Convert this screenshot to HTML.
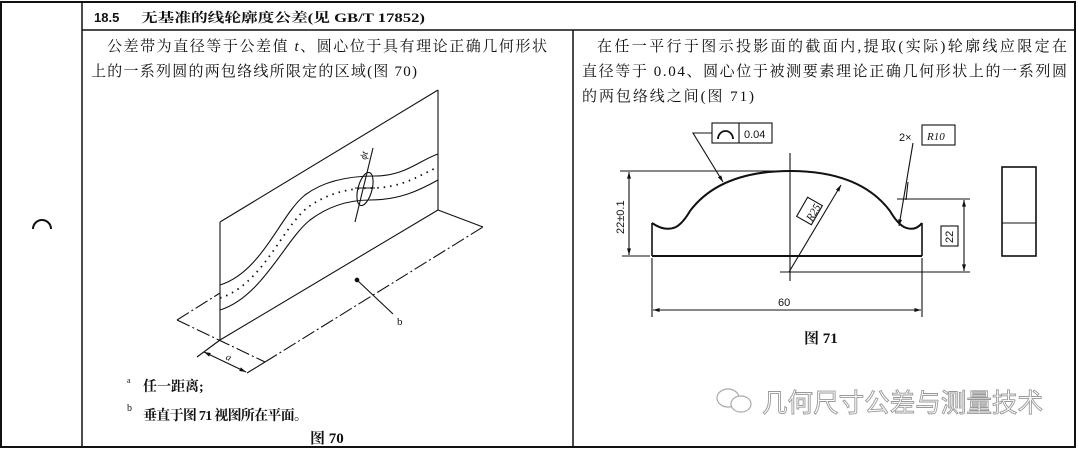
<!DOCTYPE html>
<html><head><meta charset="utf-8"><style>
html,body{margin:0;padding:0;background:#fff;}
svg{display:block;}
text{font-family:"Liberation Serif","Noto Serif CJK SC",serif;fill:#111;}
.h{font-family:"Liberation Sans","Noto Sans CJK SC",sans-serif;}
</style></head><body>
<svg width="1078" height="450" viewBox="0 0 1078 450" xmlns="http://www.w3.org/2000/svg">
<defs>
<marker id="ar" viewBox="0 0 10 10" refX="10" refY="5" markerWidth="8" markerHeight="6" orient="auto-start-reverse"><path d="M0,2 L10,5 L0,8z" fill="#111"/></marker>
</defs>
<g stroke="#111" fill="none">
<rect x="1" y="2" width="1074" height="445" stroke-width="2"/>
<line x1="82" y1="2" x2="82" y2="447" stroke-width="1.5"/>
<line x1="82" y1="30" x2="1075" y2="30" stroke-width="1.5"/>
<line x1="573" y1="30" x2="573" y2="447" stroke-width="1.5"/>
<path d="M33,229 A9,9 0 0 1 51,229" stroke-width="2"/>

<g stroke-width="1.1">
<line x1="220" y1="222" x2="220" y2="340"/>
<line x1="220" y1="222" x2="438" y2="90"/>
<line x1="438" y1="90" x2="438" y2="210"/>
<line x1="220" y1="340" x2="438" y2="210"/>
<line x1="438" y1="210" x2="483" y2="227"/>
<g stroke-dasharray="14,3,2,3">
<line x1="177" y1="320" x2="220" y2="293"/>
<line x1="177" y1="320" x2="265" y2="362"/>
<line x1="265" y1="362" x2="483" y2="227"/>
</g>
<path d="M220,285 C262,272 280,215 305,195 C325,180 350,176 375,176 C405,176 420,160 438,154"/>
<path d="M220,310 C262,297 285,240 310,220 C330,205 350,200 370,200 C400,200 420,190 438,180"/>
<path d="M220,298 C262,285 282,228 307,208 C327,193 350,188 372,188 C402,188 420,175 438,167" stroke-dasharray="1.5,5" stroke-width="1.8"/>
<ellipse cx="365" cy="189" rx="7" ry="17" transform="rotate(15 365 189)"/>
<line x1="373" y1="148" x2="355" y2="222"/>
<line x1="355" y1="188" x2="375" y2="188"/>
<circle cx="357" cy="280" r="1.8" fill="#111"/>
<line x1="357" y1="280" x2="393" y2="314"/>
<line x1="220" y1="340" x2="197" y2="357"/>
<line x1="265" y1="362" x2="247" y2="373"/>
<line x1="204" y1="352" x2="246" y2="372" marker-start="url(#ar)" marker-end="url(#ar)"/>
</g>

<g stroke-width="1.1">
<line x1="652" y1="256" x2="922" y2="256" stroke-width="2"/>
<line x1="652" y1="223" x2="652" y2="256" stroke-width="1.6"/>
<line x1="922" y1="223" x2="922" y2="256" stroke-width="1.6"/>
<path d="M652,223 Q665,232 676,227 Q683,223 690,211 Q720,171 790,171 Q860,171 890,211 Q897,223 904,227 Q915,232 922,223" stroke-width="2"/>
<line x1="790" y1="153" x2="790" y2="281"/>
<line x1="620" y1="171" x2="790" y2="171"/>
<line x1="622" y1="256" x2="650" y2="256"/>
<line x1="629" y1="172" x2="629" y2="255" marker-start="url(#ar)" marker-end="url(#ar)"/>
<line x1="897" y1="199" x2="970" y2="199"/>
<line x1="780" y1="272" x2="970" y2="272"/>
<line x1="964" y1="200" x2="964" y2="271" marker-start="url(#ar)" marker-end="url(#ar)"/>
<rect x="941" y="226" width="17" height="20"/>
<line x1="789" y1="272" x2="841" y2="185" marker-end="url(#ar)"/>
<rect x="801" y="200" width="17" height="22" transform="rotate(30 809.5 211)" fill="#fff"/>
<line x1="652" y1="258" x2="652" y2="317"/>
<line x1="922" y1="258" x2="922" y2="317"/>
<line x1="653" y1="310" x2="921" y2="310" marker-start="url(#ar)" marker-end="url(#ar)"/>
<rect x="712" y="123" width="60" height="20"/>
<line x1="739" y1="123" x2="739" y2="143"/>
<path d="M718,139 A7.5,8 0 0 1 733,139" stroke-width="1.8"/>
<polyline points="712,133 693,133 723,182" marker-end="url(#ar)"/>
<rect x="922" y="125" width="33" height="20"/>
<line x1="913" y1="143" x2="899" y2="226" marker-end="url(#ar)"/>
<line x1="908" y1="182" x2="906" y2="200"/>
<rect x="1002" y="167" width="34" height="89" stroke-width="1.6"/>
<line x1="1002" y1="223" x2="1036" y2="223"/>
</g>
</g>

<text x="94" y="22" font-size="13" font-weight="bold" class="h">18.5</text>
<text x="141" y="22" font-size="13" font-weight="bold" textLength="284" lengthAdjust="spacingAndGlyphs">无基准的线轮廓度公差(见 GB/T 17852)</text>
<text x="107" y="51" font-size="15" textLength="440" lengthAdjust="spacing">公差带为直径等于公差值 <tspan font-style="italic">t</tspan>、圆心位于具有理论正确几何形状</text>
<text x="91" y="76" font-size="15" textLength="326" lengthAdjust="spacing">上的一系列圆的两包络线所限定的区域(图 70)</text>
<text x="597" y="51" font-size="15" textLength="470" lengthAdjust="spacing">在任一平行于图示投影面的截面内,提取(实际)轮廓线应限定在</text>
<text x="582" y="76" font-size="15" textLength="485" lengthAdjust="spacing">直径等于 0.04、圆心位于被测要素理论正确几何形状上的一系列圆</text>
<text x="582" y="101" font-size="15" textLength="172" lengthAdjust="spacing">的两包络线之间(图 71)</text>

<text x="0" y="0" font-size="10" font-style="italic" transform="translate(366,160) rotate(-75)">ϕt</text>
<text x="397" y="325" font-size="11">b</text>
<text x="226" y="361" font-size="10" font-style="italic" transform="rotate(25 230 358)">a</text>
<text x="127" y="383" font-size="8">a</text>
<text x="143" y="391" font-size="14" font-weight="bold">任一距离;</text>
<text x="127" y="411" font-size="10">b</text>
<text x="143" y="420" font-size="14" font-weight="bold" textLength="165" lengthAdjust="spacing">垂直于图 71 视图所在平面。</text>
<text x="310" y="443" font-size="15" font-weight="bold">图 70</text>

<text x="0" y="0" font-size="11" transform="translate(624,234) rotate(-90)" class="h">22±0.1</text>
<text x="0" y="0" font-size="11" transform="translate(953,243) rotate(-90)" class="h">22</text>
<text x="0" y="0" font-size="11" font-style="italic" transform="translate(812,222) rotate(-60)">R25</text>
<text x="778" y="306" font-size="11" class="h">60</text>
<text x="804" y="343" font-size="15" font-weight="bold">图 71</text>
<text x="744" y="138" font-size="11" class="h">0.04</text>
<text x="899" y="141" font-size="11" class="h">2×</text>
<text x="927" y="140" font-size="11" font-style="italic">R10</text>

<g fill="none" stroke="#aaa" stroke-width="1.2">
<ellipse cx="728" cy="398" rx="11" ry="9"/>
<ellipse cx="741" cy="404" rx="10" ry="8" fill="#fff"/>
</g>
<text x="762" y="412" font-size="26" class="h" style="fill:#fff;stroke:#999;stroke-width:0.9" textLength="281" lengthAdjust="spacingAndGlyphs">几何尺寸公差与测量技术</text>
</svg>
</body></html>
